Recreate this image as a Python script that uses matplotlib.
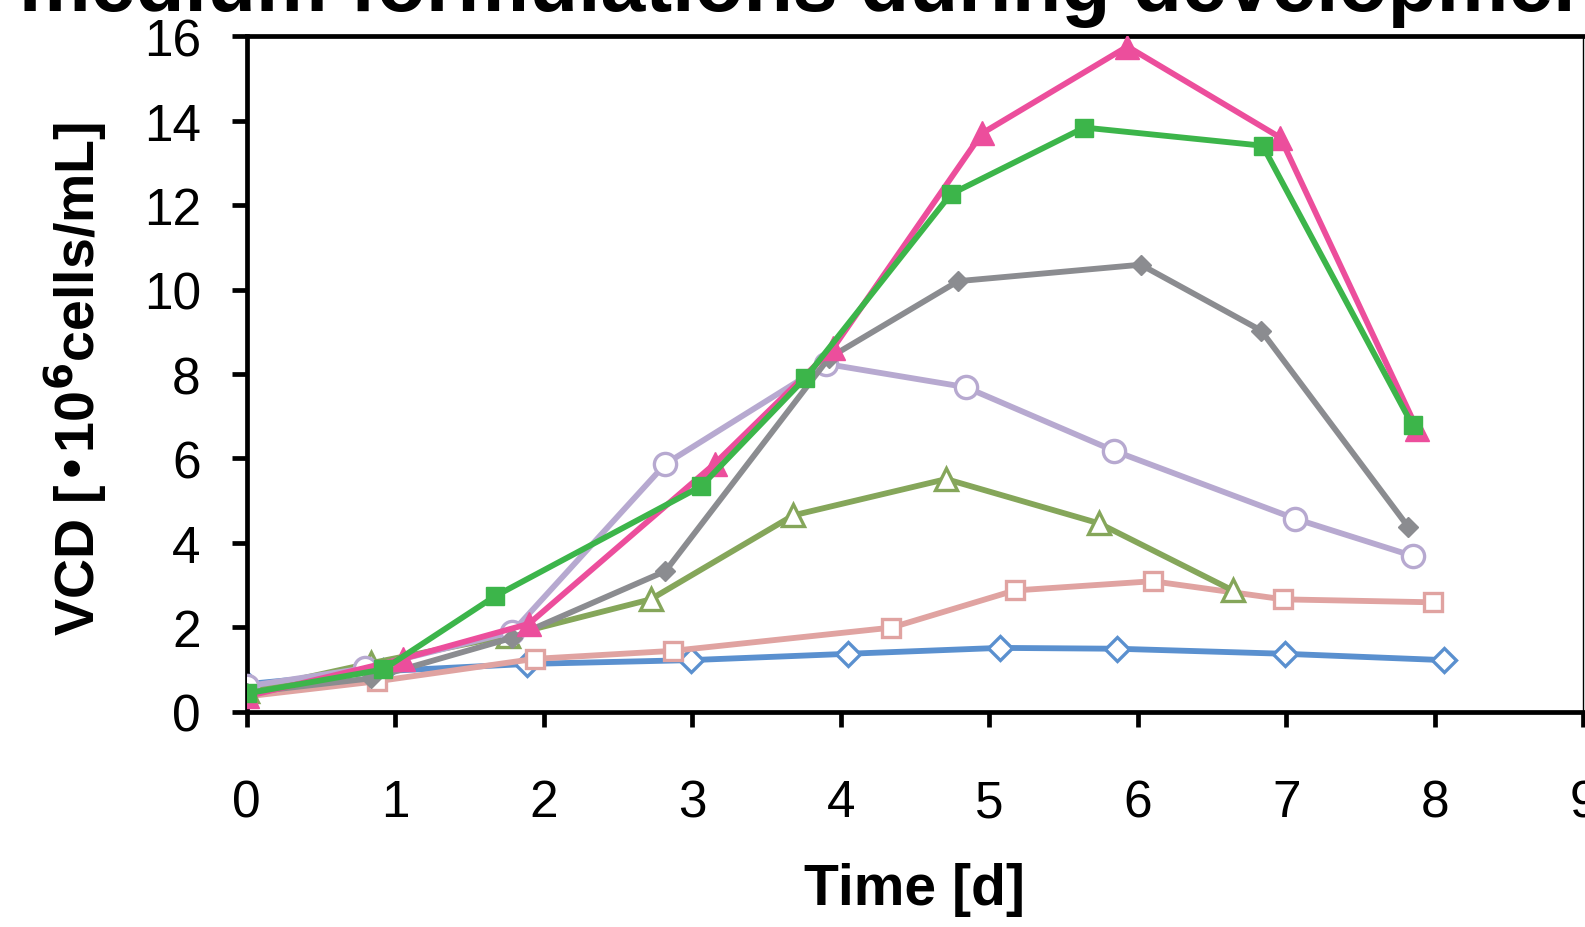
import matplotlib.pyplot as plt

plt.rcParams['font.family'] = ['Liberation Sans', 'DejaVu Sans']

# viable cell density per formulation
pink_x = [0, 1.05, 1.9, 3.15, 3.95, 4.95, 5.93, 6.96, 7.88]
pink_y = [0.36, 1.25, 2.08, 5.87, 8.62, 13.7, 15.76, 13.6, 6.7]

green_x = [0, 0.92, 1.67, 3.06, 3.76, 4.74, 5.64, 6.84, 7.85]
green_y = [0.43, 1.0, 2.73, 5.34, 7.9, 12.26, 13.84, 13.41, 6.78]

gray_x = [0, 0.84, 1.79, 2.82, 3.92, 4.79, 6.02, 6.83, 7.82]
gray_y = [0.45, 0.79, 1.75, 3.33, 8.38, 10.2, 10.59, 9.03, 4.38]

lav_x = [0, 0.8, 1.79, 2.82, 3.9, 4.84, 5.84, 7.06, 7.85]
lav_y = [0.6, 1.03, 1.89, 5.87, 8.24, 7.69, 6.18, 4.57, 3.69]

olive_x = [0, 0.84, 1.76, 2.72, 3.68, 4.71, 5.74, 6.64]
olive_y = [0.5, 1.15, 1.8, 2.66, 4.65, 5.51, 4.46, 2.87]

rose_x = [0, 0.88, 1.94, 2.87, 4.34, 5.17, 6.1, 6.98, 7.99]
rose_y = [0.36, 0.72, 1.25, 1.44, 1.99, 2.87, 3.09, 2.66, 2.59]

blue_x = [0, 0.92, 1.89, 2.99, 4.05, 5.07, 5.86, 6.99, 8.06]
blue_y = [0.65, 0.96, 1.13, 1.22, 1.37, 1.51, 1.49, 1.37, 1.22]

fig = plt.figure(figsize=(15.85, 9.28), dpi=100)
ax = fig.add_axes([0.1556, 0.2321, 0.8434, 0.7276])

lw = 4.2
ax.plot(blue_x, blue_y, color='#5A90CF', lw=lw, marker='D', ms=12, mfc='white', mew=2.4, zorder=2)
ax.plot(rose_x, rose_y, color='#E0A3A1', lw=lw, marker='s', ms=13, mfc='white', mew=2.4, zorder=3)
ax.plot(olive_x, olive_y, color='#85A65A', lw=lw, marker='^', ms=16, mfc='white', mew=2.4, zorder=4)
ax.plot(lav_x, lav_y, color='#B7A9D0', lw=lw, marker='o', ms=16, mfc='white', mew=2.4, zorder=5)
ax.plot(gray_x, gray_y, color='#8B8C90', lw=lw, marker='D', ms=10, zorder=6)
ax.plot(pink_x, pink_y, color='#EC4E9C', lw=lw, marker='^', ms=17, zorder=7)
ax.plot(green_x, green_y, color='#3CB54A', lw=lw, marker='s', ms=13, zorder=8)

ax.set_xlim(0, 9)
ax.set_ylim(0, 16)
ax.set_xticks(range(10))
ax.set_yticks(range(0, 17, 2))

for s in ['left', 'bottom', 'top']:
    ax.spines[s].set_linewidth(3.4)
ax.spines['right'].set_linewidth(1.0)
ax.tick_params(axis='both', direction='out', length=11, width=3.4, labelsize=37)
ax.tick_params(axis='x', pad=37)
ax.tick_params(axis='y', pad=22)
ax.tick_params(top=False, right=False)

fig.text(0.577, 0.041, 'Time [d]', ha='center', va='center', fontsize=41, fontweight='bold')
fig.text(0.048, 0.592, 'VCD [•10$^{\\mathbf{6}}$cells/mL]', ha='center', va='center', rotation=90,
         fontsize=40, fontweight='bold')
fig.text(0.012, 0.988, 'medium formulations during development', ha='left', va='baseline',
         fontsize=58, fontweight='bold')

fig.savefig('out.png', dpi=100)
